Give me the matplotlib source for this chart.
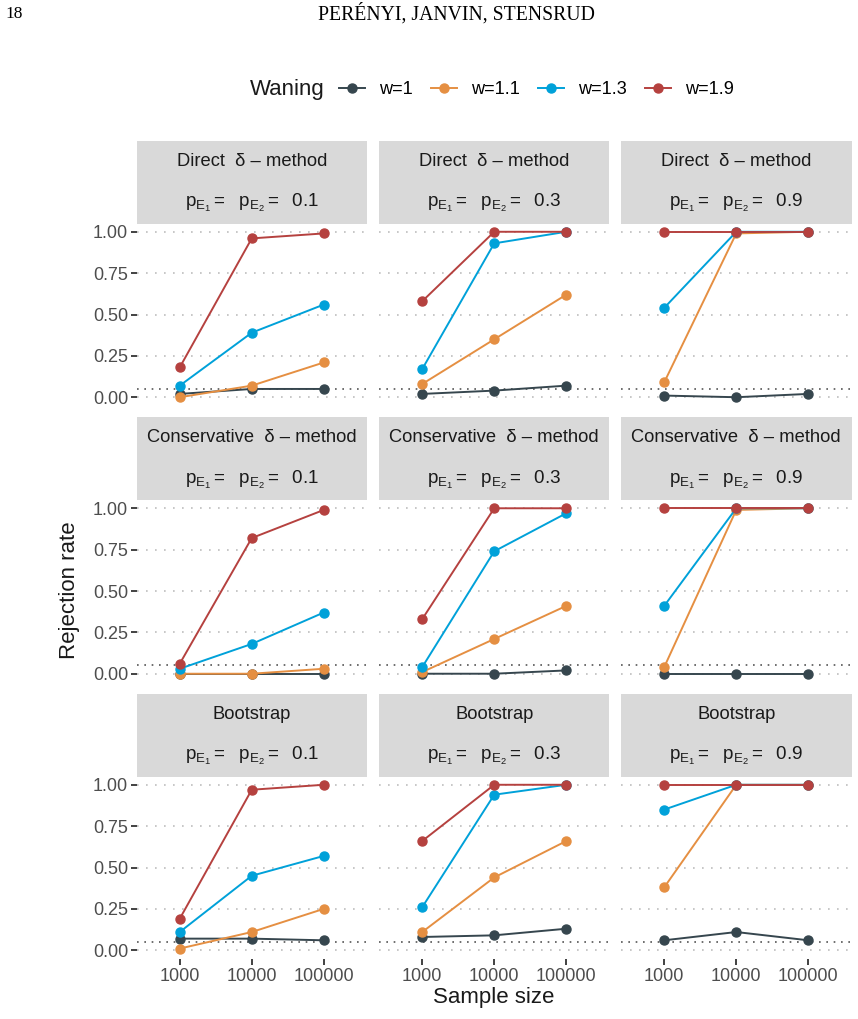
import matplotlib
matplotlib.use('Agg')
import matplotlib.pyplot as plt

plt.rcParams['font.family'] = ['Liberation Sans', 'DejaVu Sans']
plt.rcParams['mathtext.fontset'] = 'custom'
plt.rcParams['mathtext.rm'] = 'Liberation Sans'
plt.rcParams['mathtext.it'] = 'Liberation Sans:italic'

W, H = 858, 1019

sample_sizes = ['1000', '10000', '100000']
methods = ['Direct  δ – method', 'Conservative  δ – method', 'Bootstrap']
p_values = ['0.1', '0.3', '0.9']
waning = ['w=1', 'w=1.1', 'w=1.3', 'w=1.9']
colors = ['#36464E', '#E58F42', '#00A1D9', '#B5413F']

# rejection rates, one list per waning level (w=1, 1.1, 1.3, 1.9)
direct_01 = [[0.02, 0.05, 0.05], [0.00, 0.07, 0.21], [0.07, 0.39, 0.56], [0.18, 0.96, 0.99]]
direct_03 = [[0.02, 0.04, 0.07], [0.08, 0.35, 0.62], [0.17, 0.93, 1.00], [0.58, 1.00, 1.00]]
direct_09 = [[0.01, 0.00, 0.02], [0.09, 0.99, 1.00], [0.54, 1.00, 1.00], [1.00, 1.00, 1.00]]
conserv_01 = [[0.00, 0.00, 0.00], [0.00, 0.00, 0.03], [0.03, 0.18, 0.37], [0.06, 0.82, 0.99]]
conserv_03 = [[0.00, 0.00, 0.02], [0.01, 0.21, 0.41], [0.04, 0.74, 0.97], [0.33, 1.00, 1.00]]
conserv_09 = [[0.00, 0.00, 0.00], [0.04, 0.99, 1.00], [0.41, 1.00, 1.00], [1.00, 1.00, 1.00]]
boot_01 = [[0.07, 0.07, 0.06], [0.01, 0.11, 0.25], [0.11, 0.45, 0.57], [0.19, 0.97, 1.00]]
boot_03 = [[0.08, 0.09, 0.13], [0.11, 0.44, 0.66], [0.26, 0.94, 1.00], [0.66, 1.00, 1.00]]
boot_09 = [[0.06, 0.11, 0.06], [0.38, 1.00, 1.00], [0.85, 1.00, 1.00], [1.00, 1.00, 1.00]]

panels = [[direct_01, direct_03, direct_09],
          [conserv_01, conserv_03, conserv_09],
          [boot_01, boot_03, boot_09]]

col_x = [136.5, 379, 621]
panel_w = 230.5
strip_top = [140.5, 417, 693.5]
strip_h = 83
panel_h = 182

fig = plt.figure(figsize=(W / 100, H / 100), dpi=100)


def box(x, y, w, h):
    return [x / W, 1 - (y + h) / H, w / W, h / H]


handles = []
for r in range(3):
    for c in range(3):
        x0 = col_x[c]
        st = strip_top[r]
        strip = fig.add_axes(box(x0, st, panel_w, strip_h))
        strip.set_facecolor('#D9D9D9')
        strip.set_xticks([])
        strip.set_yticks([])
        for s in strip.spines.values():
            s.set_visible(False)
        strip.text(0.5, 1 - 21 / strip_h, methods[r], ha='center', va='center',
                   fontsize=13.2, color='#1A1A1A', transform=strip.transAxes)
        strip.text(0.5, 1 - 62.5 / strip_h,
                   r'$\mathregular{p_{E_1} =\ \ p_{E_2} =\ \ %s}$' % p_values[c],
                   ha='center', va='center', fontsize=13.6, color='#1A1A1A',
                   transform=strip.transAxes)

        ax = fig.add_axes(box(x0, st + strip_h, panel_w, panel_h))
        ax.set_xlim(-0.6, 2.6)
        ax.set_ylim(-0.05, 1.05)
        for s in ax.spines.values():
            s.set_visible(False)
        for yv in [0, 0.25, 0.5, 0.75, 1.0]:
            ax.axhline(yv, color='#BDBDBD', lw=1.2, ls=(0, (1, 4.4)), zorder=0)
        ax.axhline(0.05, color='#555555', lw=1.2, ls=(0, (1, 3.4)), zorder=0.5)

        data = panels[r][c]
        xs = list(range(len(sample_sizes)))
        for k, series in enumerate(data):
            ln, = ax.plot(xs, series, color=colors[k], lw=1.4, marker='o',
                          markersize=6.5, zorder=2 + k, label=waning[k])
            if r == 0 and c == 0:
                handles.append(ln)

        ax.set_yticks([0, 0.25, 0.5, 0.75, 1.0])
        ax.set_yticklabels(['0.00', '0.25', '0.50', '0.75', '1.00'])
        ax.set_xticks(xs)
        ax.set_xticklabels(sample_sizes)
        ax.tick_params(axis='y', length=4 if c == 0 else 0, width=1.3,
                       color='#333333', labelsize=13, labelcolor='#4D4D4D',
                       pad=2, labelleft=(c == 0))
        ax.tick_params(axis='x', length=4 if r == 2 else 0, width=1.3,
                       color='#333333', labelsize=13, labelcolor='#4D4D4D',
                       pad=3, labelbottom=(r == 2))

fig.text(250 / W, 1 - 90 / H, 'Waning', fontsize=16, ha='left', va='center', color='#1A1A1A')
fig.legend(handles, waning, loc='center left', bbox_to_anchor=(339 / W, 1 - 90 / H),
           ncol=4, frameon=False, fontsize=13.1, handlelength=1.45, handletextpad=0.75,
           columnspacing=1.0, borderpad=0, borderaxespad=0)

fig.text(70 / W, 1 - 590 / H, 'Rejection rate', rotation=90, fontsize=16,
         ha='center', va='center', color='#1A1A1A')
fig.text(494 / W, 1 - 998 / H, 'Sample size', fontsize=16,
         ha='center', va='center', color='#1A1A1A')

fig.text(5 / W, 1 - 14 / H, '18', family='Liberation Serif', fontsize=12.5,
         ha='left', va='center')
fig.text(456 / W, 1 - 14 / H, 'PERÉNYI, JANVIN, STENSRUD', family='Liberation Serif',
         fontsize=14.2, ha='center', va='center')

fig.savefig('out.png', dpi=100)
